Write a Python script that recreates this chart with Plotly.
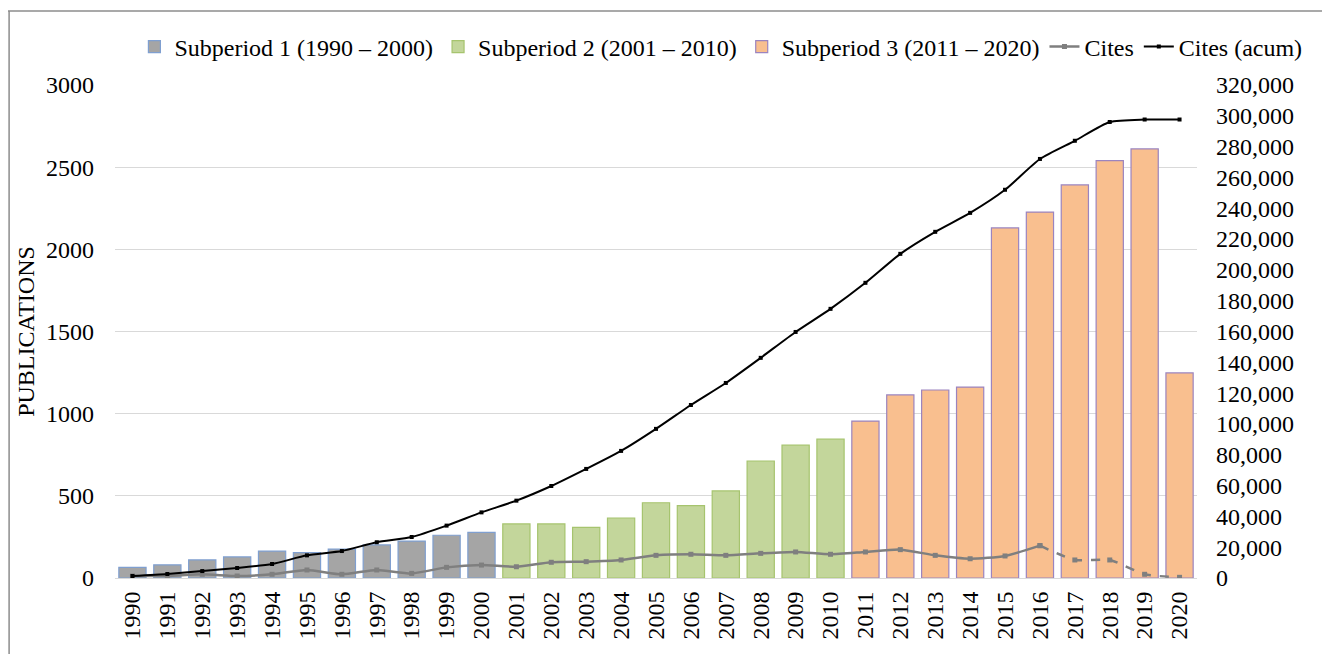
import plotly.graph_objects as go

years = [str(y) for y in range(1990, 2021)]

pubs_p1 = [65, 80, 110, 128, 164, 154, 176, 201, 225, 260, 278]
pubs_p2 = [329, 329, 308, 365, 458, 440, 530, 712, 808, 845]
pubs_p3 = [955, 1114, 1144, 1162, 2130, 2227, 2392, 2540, 2611, 1248]

cites = [1300, 1300, 2400, 1300, 2400, 5200, 2400, 5200, 3000, 6900, 8400,
         7300, 10200, 10600, 11700, 14700, 15400, 14700, 16000, 16900, 15400,
         16900, 18400, 14700, 12500, 14300, 21000, 11700, 11700, 2400, 450]

cites_acum = [1300, 2600, 4500, 6500, 9100, 14700, 17500, 23200, 26600, 34000, 42600,
              50200, 59700, 70800, 82500, 96800, 112300, 126600, 142900, 159700, 174700,
              191600, 210400, 224700, 237000, 252000, 272000, 283800, 296000, 297600, 297600]

FONT = "Liberation Serif"
FS = 24

fig = go.Figure()

fig.add_trace(go.Bar(x=years[0:11], y=pubs_p1, name="Subperiod 1 (1990 – 2000)",
                     marker=dict(color="#a5a5a5", line=dict(color="#7f9fd0", width=1.2))))
fig.add_trace(go.Bar(x=years[11:21], y=pubs_p2, name="Subperiod 2 (2001 – 2010)",
                     marker=dict(color="#c3d69b", line=dict(color="#a6c46e", width=1.2))))
fig.add_trace(go.Bar(x=years[21:31], y=pubs_p3, name="Subperiod 3 (2011 – 2020)",
                     marker=dict(color="#f9bf8f", line=dict(color="#9b84bf", width=1.2))))

fig.add_trace(go.Scatter(x=years[:27], y=cites[:27], name="Cites", yaxis="y2",
                         mode="lines+markers", line=dict(color="#7f7f7f", width=2.5, shape="spline", smoothing=0.6),
                         marker=dict(symbol="square", size=5, color="#7f7f7f")))
fig.add_trace(go.Scatter(x=years[26:], y=cites[26:], name="Cites", yaxis="y2", showlegend=False,
                         mode="lines+markers", line=dict(color="#7f7f7f", width=2.5, dash="dash", shape="spline", smoothing=0.6),
                         marker=dict(symbol="square", size=5, color="#7f7f7f")))
fig.add_trace(go.Scatter(x=years, y=cites_acum, name="Cites (acum)", yaxis="y2",
                         mode="lines+markers", line=dict(color="#000000", width=2, shape="spline", smoothing=0.6),
                         marker=dict(symbol="square", size=4, color="#000000")))

OFF = 8  # page body margin
W, H = 1330 - OFF, 654 - OFF
L, R, T, B = 114.5 - OFF, 132.5, 85 - OFF, 76
pw, ph = W - L - R, H - T - B

def px(x):
    return (x - OFF - L) / pw

def py(y):
    return (H - B - (y - OFF)) / ph

fig.update_layout(
    width=W, height=H,
    margin=dict(l=L, r=R, t=T, b=B, autoexpand=False),
    paper_bgcolor="white", plot_bgcolor="white",
    font=dict(family=FONT, size=FS, color="#000000"),
    barmode="overlay", bargap=0.22,
    xaxis=dict(type="category", tickangle=-90, showgrid=False, showline=True,
               linecolor="#d9d9d9", linewidth=1, ticks="", tickfont=dict(size=FS),
               range=[-0.5, 30.5], ticklabelstandoff=3),
    yaxis=dict(range=[0, 3000], dtick=500, showgrid=True, gridcolor="#d9d9d9", gridwidth=1,
               zeroline=False, showline=False, ticks="", tickfont=dict(size=FS),
               ticklabelstandoff=20,
               title=dict(text="PUBLICATIONS", font=dict(size=FS), standoff=4)),
    yaxis2=dict(range=[0, 320000], dtick=20000, overlaying="y", side="right", showgrid=False,
                zeroline=False, tickformat=",", ticks="", tickfont=dict(size=FS),
                ticklabelstandoff=18),
    legend=dict(orientation="h", x=px(1308), xanchor="right", y=py(47), yanchor="middle",
                font=dict(size=FS), traceorder="normal", itemwidth=30,
                bgcolor="rgba(0,0,0,0)", tracegroupgap=0),
    shapes=[
        dict(type="line", xref="paper", yref="paper", x0=px(7), x1=px(1330), y0=py(11), y1=py(11),
             line=dict(color="#8c8c8c", width=1.5)),
        dict(type="line", xref="paper", yref="paper", x0=px(8.5), x1=px(8.5), y0=py(11), y1=py(654),
             line=dict(color="#8c8c8c", width=1.5)),
    ],
)

fig.write_html("out.html")
